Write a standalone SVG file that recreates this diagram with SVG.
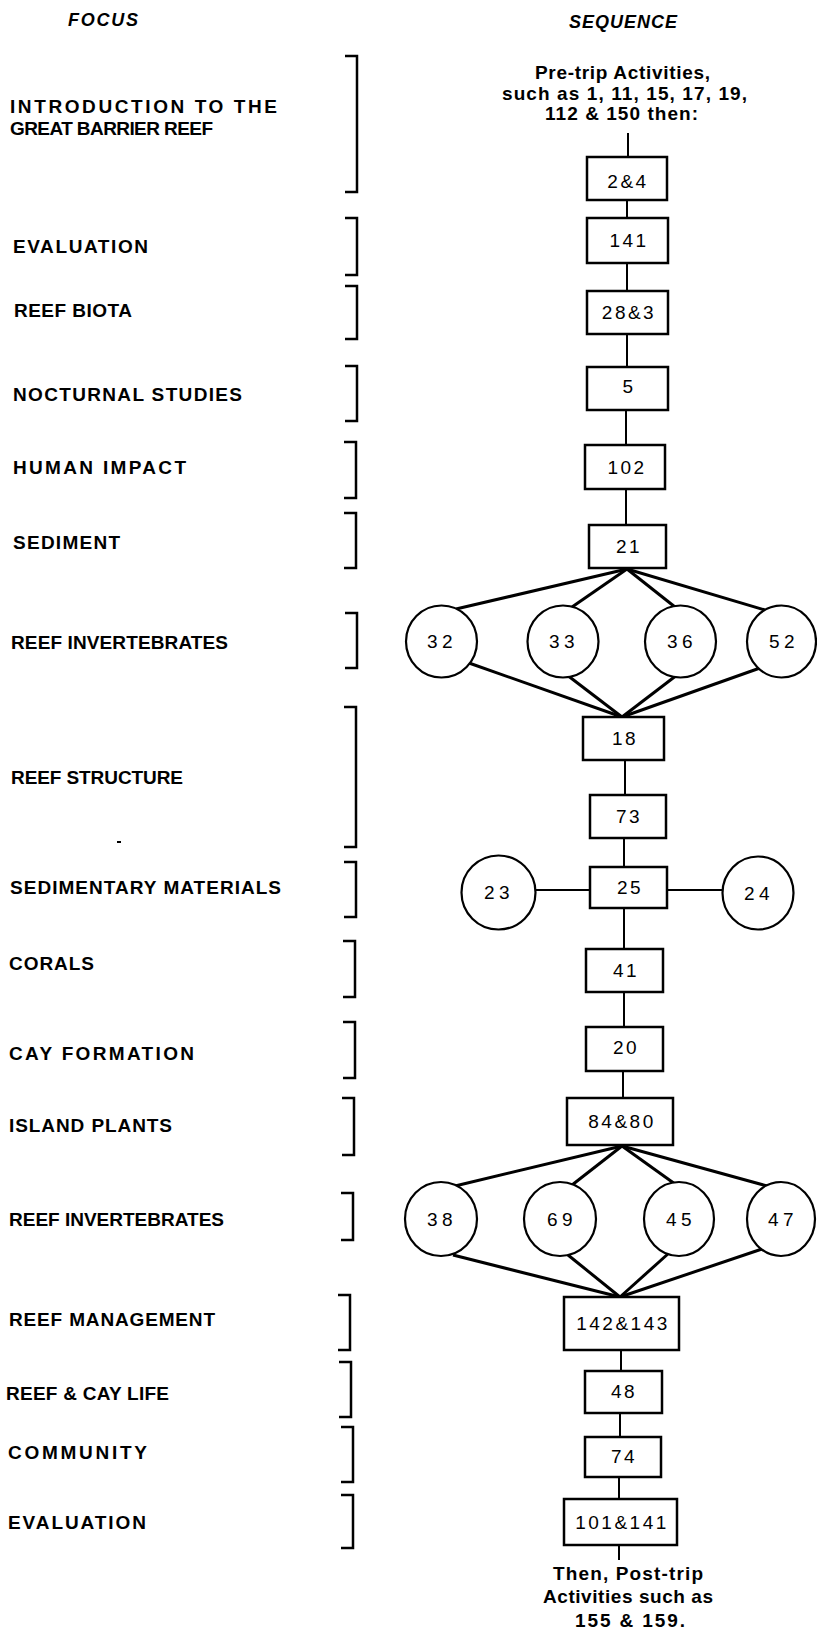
<svg xmlns="http://www.w3.org/2000/svg" width="817" height="1631" viewBox="0 0 817 1631">
<style>
text{font-family:"Liberation Sans",Arial,sans-serif;fill:#000}
.hdr{font-style:italic;font-weight:bold;font-size:18px}
.lbl{font-weight:bold;font-size:19px}
.seq{font-weight:bold;font-size:19px}
.num{font-size:19px;text-anchor:middle;letter-spacing:2.5px}
.cn{font-size:19px;text-anchor:middle;letter-spacing:4.5px}
.box{fill:#fff;stroke:#000;stroke-width:2.5}
.circ{fill:#fff;stroke:#000;stroke-width:2.2}
.br{fill:none;stroke:#000;stroke-width:2.5}
.ln{stroke:#000;stroke-width:2;fill:none}
.fan{stroke:#000;stroke-width:3;fill:none}
</style>
<rect width="817" height="1631" fill="#fff"/>

<g id="headers">
<text class="hdr" x="68" y="26" textLength="70">FOCUS</text>
<text class="hdr" x="569" y="28" textLength="108">SEQUENCE</text>
</g>

<g id="focus">
<g id="f1"><text class="lbl" x="10" y="113" textLength="267">INTRODUCTION TO THE</text><text class="lbl" x="10" y="134.5" textLength="203">GREAT BARRIER REEF</text><path class="br" d="M345,56H357V192H345"/></g>
<g id="f2"><text class="lbl" x="13" y="253" textLength="135">EVALUATION</text><path class="br" d="M345,218H357V275H345"/></g>
<g id="f3"><text class="lbl" x="14" y="317" textLength="118">REEF BIOTA</text><path class="br" d="M345,286H357V339H345"/></g>
<g id="f4"><text class="lbl" x="13" y="401" textLength="229">NOCTURNAL STUDIES</text><path class="br" d="M345,366H357V421H345"/></g>
<g id="f5"><text class="lbl" x="13" y="474" textLength="173">HUMAN IMPACT</text><path class="br" d="M344,442H356V498H344"/></g>
<g id="f6"><text class="lbl" x="13" y="549" textLength="107">SEDIMENT</text><path class="br" d="M344,513H356V568H344"/></g>
<g id="f7"><text class="lbl" x="11" y="649" textLength="217">REEF INVERTEBRATES</text><path class="br" d="M345,613H357V668H345"/></g>
<g id="f8"><text class="lbl" x="11" y="784" textLength="172">REEF STRUCTURE</text><path class="br" d="M344,707H356V847H344"/><rect x="117" y="841" width="4" height="2" fill="#000"/></g>
<g id="f9"><text class="lbl" x="10" y="894" textLength="271">SEDIMENTARY MATERIALS</text><path class="br" d="M344,862H356V917H344"/></g>
<g id="f10"><text class="lbl" x="9" y="970" textLength="85">CORALS</text><path class="br" d="M343,941H355V997H343"/></g>
<g id="f11"><text class="lbl" x="9" y="1060" textLength="185">CAY FORMATION</text><path class="br" d="M343,1022H355V1078H343"/></g>
<g id="f12"><text class="lbl" x="9" y="1132" textLength="163">ISLAND PLANTS</text><path class="br" d="M342,1098H354V1155H342"/></g>
<g id="f13"><text class="lbl" x="9" y="1226" textLength="215">REEF INVERTEBRATES</text><path class="br" d="M341,1193H353V1240H341"/></g>
<g id="f14"><text class="lbl" x="9" y="1326" textLength="206">REEF MANAGEMENT</text><path class="br" d="M338,1295H350V1350H338"/></g>
<g id="f15"><text class="lbl" x="6" y="1400" textLength="163">REEF &amp; CAY LIFE</text><path class="br" d="M339,1362H351V1417H339"/></g>
<g id="f16"><text class="lbl" x="8" y="1459" textLength="139">COMMUNITY</text><path class="br" d="M341,1427H353V1482H341"/></g>
<g id="f17"><text class="lbl" x="8" y="1529" textLength="138">EVALUATION</text><path class="br" d="M341,1495H353V1548H341"/></g>
</g>

<g id="connectors">
<line class="ln" x1="628" y1="133" x2="628" y2="157"/>
<line class="ln" x1="627" y1="200" x2="627" y2="218"/>
<line class="ln" x1="627" y1="263" x2="627" y2="291"/>
<line class="ln" x1="627" y1="334" x2="627" y2="367"/>
<line class="ln" x1="626" y1="410" x2="626" y2="445"/>
<line class="ln" x1="626" y1="489" x2="626" y2="525"/>
<line class="fan" x1="627" y1="569" x2="456" y2="609"/>
<line class="fan" x1="627" y1="569" x2="572" y2="607"/>
<line class="fan" x1="627" y1="569" x2="675" y2="607"/>
<line class="fan" x1="627" y1="569" x2="765" y2="610"/>
<line class="fan" x1="622" y1="717" x2="469" y2="663"/>
<line class="fan" x1="622" y1="717" x2="567" y2="675"/>
<line class="fan" x1="622" y1="717" x2="677" y2="675"/>
<line class="fan" x1="622" y1="717" x2="760" y2="668"/>
<line class="ln" x1="625" y1="760" x2="625" y2="795"/>
<line class="ln" x1="624" y1="838" x2="624" y2="867"/>
<line class="ln" x1="536" y1="890" x2="590" y2="890"/>
<line class="ln" x1="667" y1="890" x2="722" y2="890"/>
<line class="ln" x1="624" y1="908" x2="624" y2="949"/>
<line class="ln" x1="624" y1="992" x2="624" y2="1027"/>
<line class="ln" x1="623" y1="1071" x2="623" y2="1098"/>
<line class="fan" x1="622" y1="1146" x2="455" y2="1186"/>
<line class="fan" x1="622" y1="1146" x2="572" y2="1185"/>
<line class="fan" x1="622" y1="1146" x2="675" y2="1184"/>
<line class="fan" x1="622" y1="1146" x2="767" y2="1186"/>
<line class="fan" x1="620" y1="1297" x2="453" y2="1255"/>
<line class="fan" x1="620" y1="1297" x2="568" y2="1255"/>
<line class="fan" x1="620" y1="1297" x2="669" y2="1253"/>
<line class="fan" x1="620" y1="1297" x2="762" y2="1249"/>
<line class="ln" x1="621" y1="1350" x2="621" y2="1371"/>
<line class="ln" x1="620" y1="1413" x2="620" y2="1437"/>
<line class="ln" x1="619" y1="1477" x2="619" y2="1499"/>
<line class="ln" x1="619" y1="1545" x2="619" y2="1560"/>
</g>

<g id="pretrip">
<text class="seq" x="535" y="79" textLength="175">Pre-trip Activities,</text>
<text class="seq" x="502" y="100" textLength="245">such as 1, 11, 15, 17, 19,</text>
<text class="seq" x="545" y="120" textLength="153">112 &amp; 150 then:</text>
</g>

<g id="n2-4"><rect class="box" x="587" y="157" width="80" height="43"/><text class="num" x="628" y="188">2&amp;4</text></g>
<g id="n141"><rect class="box" x="587" y="218" width="81" height="45"/><text class="num" x="629" y="247">141</text></g>
<g id="n28-3"><rect class="box" x="587" y="291" width="81" height="43"/><text class="num" x="629" y="319">28&amp;3</text></g>
<g id="n5"><rect class="box" x="587" y="367" width="81" height="43"/><text class="num" x="629" y="393">5</text></g>
<g id="n102"><rect class="box" x="585" y="445" width="80" height="44"/><text class="num" x="627" y="474">102</text></g>
<g id="n21"><rect class="box" x="589" y="525" width="77" height="43"/><text class="num" x="629" y="553">21</text></g>
<g id="n32"><ellipse class="circ" cx="441.5" cy="641.5" rx="35.5" ry="36"/><text class="cn" x="442" y="648">32</text></g>
<g id="n33"><ellipse class="circ" cx="563" cy="641.5" rx="35.5" ry="36"/><text class="cn" x="564" y="648">33</text></g>
<g id="n36"><ellipse class="circ" cx="680.5" cy="641.5" rx="35.5" ry="36"/><text class="cn" x="682" y="648">36</text></g>
<g id="n52"><ellipse class="circ" cx="781.5" cy="641.5" rx="34.5" ry="36"/><text class="cn" x="784" y="648">52</text></g>
<g id="n18"><rect class="box" x="583" y="717" width="81" height="43"/><text class="num" x="625" y="745">18</text></g>
<g id="n73"><rect class="box" x="590" y="795" width="76" height="43"/><text class="num" x="629" y="823">73</text></g>
<g id="n23"><ellipse class="circ" cx="498.5" cy="892.5" rx="37" ry="37"/><text class="cn" x="499" y="899">23</text></g>
<g id="n25"><rect class="box" x="590" y="867" width="77" height="41"/><text class="num" x="630" y="894">25</text></g>
<g id="n24"><ellipse class="circ" cx="758" cy="893" rx="35.5" ry="36.5"/><text class="cn" x="759" y="900">24</text></g>
<g id="n41"><rect class="box" x="586" y="949" width="77" height="43"/><text class="num" x="626" y="977">41</text></g>
<g id="n20"><rect class="box" x="586" y="1027" width="77" height="44"/><text class="num" x="626" y="1054">20</text></g>
<g id="n84-80"><rect class="box" x="567" y="1098" width="106" height="47"/><text class="num" x="622" y="1128">84&amp;80</text></g>
<g id="n38"><ellipse class="circ" cx="441" cy="1219" rx="36" ry="37"/><text class="cn" x="442" y="1226">38</text></g>
<g id="n69"><ellipse class="circ" cx="560" cy="1219" rx="36" ry="37"/><text class="cn" x="562" y="1226">69</text></g>
<g id="n45"><ellipse class="circ" cx="679" cy="1219" rx="35" ry="37"/><text class="cn" x="681" y="1226">45</text></g>
<g id="n47"><ellipse class="circ" cx="781" cy="1219" rx="34" ry="37"/><text class="cn" x="783" y="1226">47</text></g>
<g id="n142-143"><rect class="box" x="564" y="1297" width="115" height="53"/><text class="num" x="623" y="1330">142&amp;143</text></g>
<g id="n48"><rect class="box" x="585" y="1371" width="77" height="42"/><text class="num" x="624" y="1398">48</text></g>
<g id="n74"><rect class="box" x="585" y="1437" width="76" height="40"/><text class="num" x="624" y="1463">74</text></g>
<g id="n101-141"><rect class="box" x="564" y="1499" width="113" height="46"/><text class="num" x="622" y="1529">101&amp;141</text></g>

<g id="posttrip">
<text class="seq" x="553" y="1580" textLength="150">Then, Post-trip</text>
<text class="seq" x="543" y="1603" textLength="170">Activities such as</text>
<text class="seq" x="575" y="1627" textLength="110">155 &amp; 159.</text>
</g>
</svg>
